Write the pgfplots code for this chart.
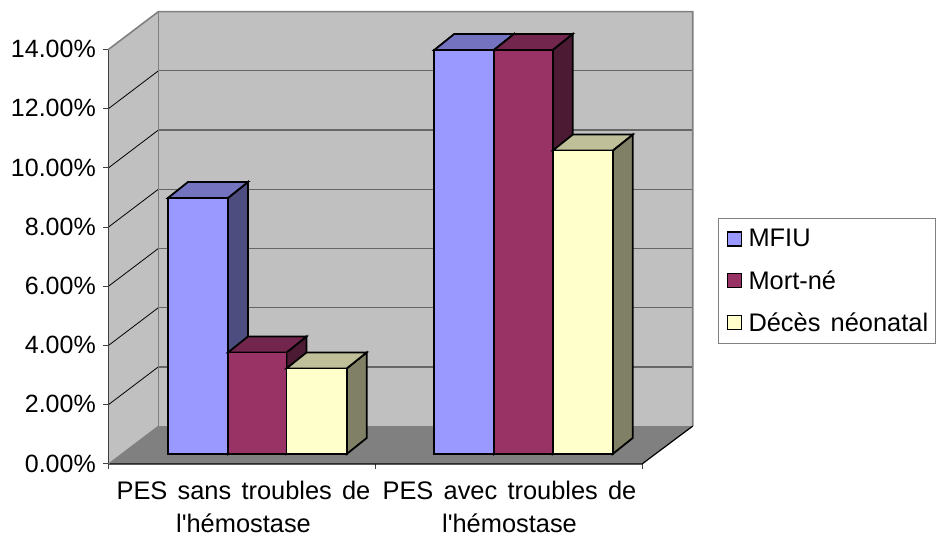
\documentclass[border=0pt]{standalone}
\usepackage{fontspec}
\setmainfont[Ligatures=TeXOff,WordSpace=1.45]{Liberation Sans}
\usepackage{pgfplots}
\pgfplotsset{compat=1.18}
\definecolor{blueF}{HTML}{9999FF}\definecolor{blueT}{HTML}{7373BF}\definecolor{blueS}{HTML}{4D4D80}
\definecolor{redF}{HTML}{993366}\definecolor{redT}{HTML}{73264D}\definecolor{redS}{HTML}{4D1A33}
\definecolor{yelF}{HTML}{FFFFCC}\definecolor{yelT}{HTML}{BFBF99}\definecolor{yelS}{HTML}{808066}
\definecolor{wall}{HTML}{C0C0C0}\definecolor{floorc}{HTML}{808080}
\pgfplotsset{
  wallface/.style={forget plot, fill=#1, draw=none},
  gridb/.style={forget plot, draw=black!60, line width=1.2pt},
  grids/.style={forget plot, draw=black, line width=0.8pt},
  edge/.style={forget plot, draw=floorc, line width=1.6pt},
  % bars stand 10 px in front of the axis plane
  face/.style={forget plot, fill=#1, draw=black, line width=1.8pt, line join=miter, y filter/.expression={y+0.338}},
  swatch/.style={legend image code/.code={
    \path[draw=none] (0pt,0pt) -- (23pt,0pt);
    \draw[fill=#1, draw=black, line width=1.3pt] (4pt,-7pt) rectangle (18pt,7pt);}},
}
\begin{document}
\begin{tikzpicture}[x=1pt,y=1pt]
\useasboundingbox (0,0) rectangle (936,537);
\begin{axis}[
    at={(108.3pt,73pt)}, anchor=south west,
    scale only axis, width=584.4pt, height=452.3pt,
    xmin=108.3, xmax=692.7, ymin=0, ymax=15.28,
    clip=false,
    axis x line=bottom, axis y line=left,
    axis line style={draw=none, -},
    xtick={108.3,375,642}, xticklabels={},
    extra x ticks={243.5,509.5},
    extra x tick labels={PES sans troubles de\\l'hémostase,PES avec troubles de\\l'hémostase},
    extra x tick style={major tick length=0pt},
    ytick={0,2,4,6,8,10,12,14},
    yticklabels={0.00\%,2.00\%,4.00\%,6.00\%,8.00\%,10.00\%,12.00\%,14.00\%},
    tick align=outside, major tick length=5pt,
    tick style={draw=black!75, line width=1pt},
    y tick label style={font=\fontsize{25}{30}\selectfont, xshift=-4pt, yshift=0.5pt},
    x tick label style={font=\fontsize{25.4}{33}\selectfont, align=center, yshift=-14pt},
    legend style={at={(axis cs:718,8.31)}, anchor=north west, draw=floorc, line width=1pt,
      font=\fontsize{25.4}{30}\selectfont, row sep=18pt, inner xsep=5pt, inner ysep=9pt},
    legend cell align=left,
]
% walls and floor
\addplot[wallface=wall] coordinates {(108.3,0)(158.3,1.28)(158.3,15.28)(108.3,14)} --cycle;
\addplot[wallface=wall] coordinates {(158.3,1.28)(692.7,1.28)(692.7,15.28)(158.3,15.28)} --cycle;
\addplot[wallface=floorc] coordinates {(108.3,0)(642,0)(692.7,1.28)(158.3,1.28)} --cycle;
% gridlines
\addplot[grids] coordinates {(108.3,2)(158.3,3.28)};
\addplot[grids] coordinates {(108.3,4)(158.3,5.28)};
\addplot[grids] coordinates {(108.3,6)(158.3,7.28)};
\addplot[grids] coordinates {(108.3,8)(158.3,9.28)};
\addplot[grids] coordinates {(108.3,10)(158.3,11.28)};
\addplot[grids] coordinates {(108.3,12)(158.3,13.28)};
\addplot[gridb] coordinates {(158.3,3.28)(692.7,3.28)};
\addplot[gridb] coordinates {(158.3,5.28)(692.7,5.28)};
\addplot[gridb] coordinates {(158.3,7.28)(692.7,7.28)};
\addplot[gridb] coordinates {(158.3,9.28)(692.7,9.28)};
\addplot[gridb] coordinates {(158.3,11.28)(692.7,11.28)};
\addplot[gridb] coordinates {(158.3,13.28)(692.7,13.28)};
% wall edges
\addplot[edge] coordinates {(108.3,14)(158.3,15.28)(692.7,15.28)(692.7,1.28)};
\addplot[edge] coordinates {(158.3,15.28)(158.3,1.28)};
\addplot[forget plot, draw=black!75, line width=1.2pt] coordinates {(108.3,0)(108.3,14)};
\addplot[forget plot, draw=black, line width=1.2pt] coordinates {(108.3,0)(642,0)(692.7,1.28)};
\addplot[forget plot, draw=floorc, line width=0.8pt] coordinates {(108.3,0)(158.3,1.28)};
% PES sans troubles
\addplot[face=blueS] coordinates {(228,0)(248,0.54)(248,9.19)(228,8.65)} --cycle;
\addplot[face=blueT] coordinates {(168,8.65)(228,8.65)(248,9.19)(188,9.19)} --cycle;
\addplot[face=blueF] coordinates {(168,0)(228,0)(228,8.65)(168,8.65)} --cycle;
\addplot[face=redS] coordinates {(286.5,0)(306.5,0.54)(306.5,3.97)(286.5,3.43)} --cycle;
\addplot[face=redT] coordinates {(228,3.43)(286.5,3.43)(306.5,3.97)(248,3.97)} --cycle;
\addplot[face=redF] coordinates {(228,0)(286.5,0)(286.5,3.43)(228,3.43)} --cycle;
\addplot[face=yelS] coordinates {(346.7,0)(366.7,0.54)(366.7,3.43)(346.7,2.89)} --cycle;
\addplot[face=yelT] coordinates {(286.5,2.89)(346.7,2.89)(366.7,3.43)(306.5,3.43)} --cycle;
\addplot[face=yelF] coordinates {(286.5,0)(346.7,0)(346.7,2.89)(286.5,2.89)} --cycle;
% PES avec troubles
\addplot[face=blueS] coordinates {(494,0)(514,0.54)(514,14.19)(494,13.65)} --cycle;
\addplot[face=blueT] coordinates {(434.3,13.65)(494,13.65)(514,14.19)(454.3,14.19)} --cycle;
\addplot[face=blueF] coordinates {(434.3,0)(494,0)(494,13.65)(434.3,13.65)} --cycle;
\addplot[face=redS] coordinates {(552.7,0)(572.7,0.54)(572.7,14.19)(552.7,13.65)} --cycle;
\addplot[face=redT] coordinates {(494,13.65)(552.7,13.65)(572.7,14.19)(514,14.19)} --cycle;
\addplot[face=redF] coordinates {(494,0)(552.7,0)(552.7,13.65)(494,13.65)} --cycle;
\addplot[face=yelS] coordinates {(612.7,0)(632.7,0.54)(632.7,10.79)(612.7,10.25)} --cycle;
\addplot[face=yelT] coordinates {(552.7,10.25)(612.7,10.25)(632.7,10.79)(572.7,10.79)} --cycle;
\addplot[face=yelF] coordinates {(552.7,0)(612.7,0)(612.7,10.25)(552.7,10.25)} --cycle;
% legend
\addlegendimage{swatch=blueF}\addlegendentry{MFIU}
\addlegendimage{swatch=redF}\addlegendentry{Mort-né}
\addlegendimage{swatch=yelF}\addlegendentry{Décès néonatal}
\end{axis}
\end{tikzpicture}
\end{document}
